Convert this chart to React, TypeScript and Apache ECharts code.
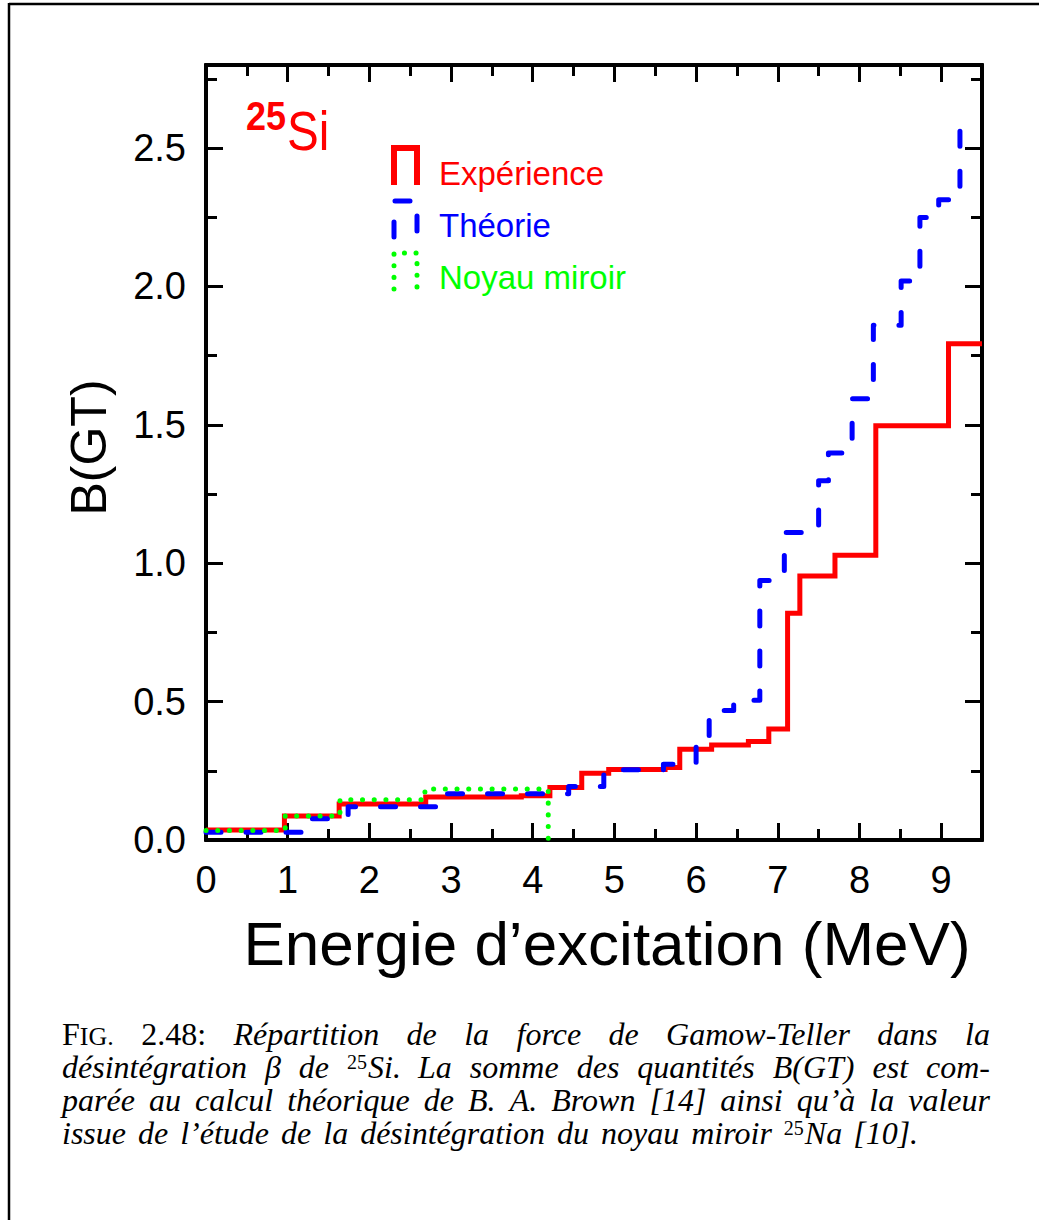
import React, { useEffect, useRef } from "react";
import * as echarts from "echarts";

// ---- axis ranges / ticks ----
const X_MAX = 9.5;
const X_MAJOR = 1;
const X_MINOR = 0.5;
const Y_MAX = 2.8;
const Y_MAJOR = 0.5;
const Y_MINOR = 0.25;

// ---- data (cumulative B(GT) step histograms) ----
// Expérience
const expEnergy = [0, 0.96, 1.63, 2.69, 3.86, 4.21, 4.6, 4.93, 5.62, 5.8, 6.19, 6.64, 6.89, 7.12, 7.27, 7.7, 8.2, 9.09, 9.5];
const expBGT = [0.036, 0.087, 0.13, 0.155, 0.16, 0.19, 0.241, 0.255, 0.262, 0.328, 0.343, 0.356, 0.401, 0.819, 0.954, 1.029, 1.497, 1.793, 1.793];
// Théorie
const thEnergy = [0, 1.17, 1.74, 2.88, 4.44, 4.87, 5.6, 6.0, 6.16, 6.46, 6.78, 7.08, 7.5, 7.62, 7.91, 8.17, 8.51, 8.74, 8.97, 9.23];
const thBGT = [0.028, 0.077, 0.12, 0.167, 0.193, 0.254, 0.274, 0.37, 0.468, 0.505, 0.938, 1.111, 1.298, 1.398, 1.594, 1.86, 2.02, 2.249, 2.313, 2.645];
// Noyau miroir
const mirEnergy = [0, 0.97, 1.64, 2.68, 4.19];
const mirBGT = [0.034, 0.087, 0.145, 0.184, 0];

const seriesNames = ["Expérience", "Théorie", "Noyau miroir"];
const seriesColors = ["#ff0000", "#0000ff", "#00ff00"];

const xTitle = "Energie d’excitation (MeV)";
const yTitle = "B(GT)";

type Seg = [string, string];
type Word = string | Seg[];
const captionLines: Word[][] = [
  [[["rm", "F"], ["sc", "IG."]], [["rm", "2.48:"]], "Répartition", "de", "la", "force", "de", "Gamow-Teller", "dans", "la"],
  ["désintégration", "β", "de", [["sup", "25"], ["it", "Si."]], "La", "somme", "des", "quantités", "B(GT)", "est", "com-"],
  ["parée", "au", "calcul", "théorique", "de", "B.", "A.", "Brown", "[14]", "ainsi", "qu’à", "la", "valeur"],
  ["issue", "de", "l’étude", "de", "la", "désintégration", "du", "noyau", "miroir", [["sup", "25"], ["it", "Na"]], "[10]."],
];

const toPoints = (xs: number[], ys: number[]) => xs.map((x, i) => [x, ys[i]]);

const SANS = "Liberation Sans";
const SERIF = "Liberation Serif";

export default function App() {
  const ref = useRef<HTMLDivElement>(null);

  useEffect(() => {
    if (!ref.current) return;
    const chart = echarts.init(ref.current, null, { renderer: "svg" });

    // ---------- caption layout (justified) ----------
    const canvas = document.createElement("canvas");
    const ctx = canvas.getContext("2d")!;
    const segStyle: Record<string, { size: number; style: string; rise: number }> = {
      it: { size: 32, style: "italic", rise: 0 },
      rm: { size: 32, style: "normal", rise: 0 },
      sc: { size: 26, style: "normal", rise: 0 },
      sup: { size: 20, style: "normal", rise: 9 },
    };
    const measure = (kind: string, t: string) => {
      const s = segStyle[kind];
      ctx.font = `${s.style} ${s.size}px "${SERIF}"`;
      return ctx.measureText(t).width;
    };
    const CAP_LEFT = 62;
    const CAP_RIGHT = 990;
    const CAP_BASE = [1045, 1078, 1111, 1144];
    const captionEls: any[] = [];
    captionLines.forEach((line, li) => {
      const words: Seg[][] = line.map((w) => (typeof w === "string" ? [["it", w] as Seg] : w));
      const widths = words.map((segs) => segs.reduce((a, [k, t]) => a + measure(k, t), 0));
      const total = widths.reduce((a, b) => a + b, 0);
      const justify = li < captionLines.length - 1;
      const gap = justify ? (CAP_RIGHT - CAP_LEFT - total) / (words.length - 1) : 12;
      let x = CAP_LEFT;
      words.forEach((segs, wi) => {
        let sx = x;
        segs.forEach(([k, t]) => {
          const s = segStyle[k];
          captionEls.push({
            type: "text",
            x: sx,
            y: CAP_BASE[li] - s.rise - 0.3375 * s.size,
            silent: true,
            style: {
              text: t,
              fontFamily: SERIF,
              fontSize: s.size,
              fontStyle: s.style,
              fill: "#000",
              align: "left",
              verticalAlign: "middle",
            },
          });
          sx += measure(k, t) + (k === "sup" ? 1 : 0);
        });
        x += widths[wi] + gap;
      });
    });

    // ---------- axes ----------
    const labelFmtY = (v: number) =>
      Math.abs(v / Y_MAJOR - Math.round(v / Y_MAJOR)) < 1e-6 ? v.toFixed(1) : "";
    const labelFmtX = (v: number) =>
      Math.abs(v / X_MAJOR - Math.round(v / X_MAJOR)) < 1e-6 ? String(Math.round(v)) : "";
    const axisLine = { show: true, onZero: false, lineStyle: { color: "#000", width: 4 } };
    const tick = (len: number) => ({ show: true, inside: true, length: len, lineStyle: { color: "#000", width: 3 } });
    const xAx = (pos: string, interval: number, len: number, withLabels: boolean) => ({
      type: "value",
      gridIndex: 0,
      position: pos,
      offset: 0,
      min: 0,
      max: X_MAX,
      interval,
      axisLine,
      axisTick: tick(len),
      splitLine: { show: false },
      axisLabel: withLabels
        ? { show: true, formatter: labelFmtX, margin: 21, fontSize: 38, fontFamily: SANS, color: "#000" }
        : { show: false },
      ...(withLabels
        ? {
            name: xTitle,
            nameLocation: "middle",
            nameGap: 72,
            nameTextStyle: { fontSize: 62, fontFamily: SANS, color: "#000", padding: [0, 0, 0, 26] },
          }
        : {}),
    });
    const yAx = (pos: string, interval: number, len: number, withLabels: boolean) => ({
      type: "value",
      gridIndex: 0,
      position: pos,
      offset: 0,
      min: 0,
      max: Y_MAX,
      interval,
      axisLine,
      axisTick: tick(len),
      splitLine: { show: false },
      axisLabel: withLabels
        ? { show: true, formatter: labelFmtY, margin: 20, fontSize: 38, fontFamily: SANS, color: "#000" }
        : { show: false },
      ...(withLabels
        ? {
            name: yTitle,
            nameLocation: "middle",
            nameGap: 92,
            nameTextStyle: { fontSize: 50, fontFamily: SANS, color: "#000", padding: [0, 0, 0, 10] },
          }
        : {}),
    });

    // ---------- legend glyphs ----------
    const glyph = (top: number, bottom: number, color: string, width: number, dash: any, cap: string) => ({
      type: "polyline",
      silent: true,
      shape: { points: [[394, bottom], [394, top], [417, top], [417, bottom]] },
      style: { stroke: color, lineWidth: width, fill: null, lineDash: dash, lineCap: cap, lineJoin: "miter" },
    });
    const legendText = (text: string, baseline: number, color: string) => ({
      type: "text",
      x: 439,
      y: baseline - 0.3465 * 33,
      silent: true,
      style: { text, fontFamily: SANS, fontSize: 33, fill: color, align: "left", verticalAlign: "middle" },
    });

    const option: any = {
      animation: false,
      backgroundColor: "#fff",
      grid: { left: 206, right: 57, top: 65, bottom: 380, containLabel: false },
      xAxis: [
        xAx("bottom", X_MAJOR, 17, true),
        xAx("bottom", X_MINOR, 11, false),
        xAx("top", X_MAJOR, 17, false),
        xAx("top", X_MINOR, 11, false),
      ],
      yAxis: [
        yAx("left", Y_MAJOR, 17, true),
        yAx("left", Y_MINOR, 11, false),
        yAx("right", Y_MAJOR, 17, false),
        yAx("right", Y_MINOR, 11, false),
      ],
      series: [
        {
          type: "line",
          name: seriesNames[0],
          xAxisIndex: 0,
          yAxisIndex: 0,
          data: toPoints(expEnergy, expBGT),
          step: "end",
          symbol: "none",
          showSymbol: false,
          silent: true,
          z: 3,
          lineStyle: { color: seriesColors[0], width: 5, join: "miter", cap: "butt" },
        },
        {
          type: "line",
          name: seriesNames[1],
          xAxisIndex: 0,
          yAxisIndex: 0,
          data: toPoints(thEnergy, thBGT),
          step: "end",
          symbol: "none",
          showSymbol: false,
          silent: true,
          z: 4,
          lineStyle: { color: seriesColors[1], width: 5, type: [15, 25], cap: "round", join: "round" },
        },
        {
          type: "line",
          name: seriesNames[2],
          xAxisIndex: 0,
          yAxisIndex: 0,
          data: toPoints(mirEnergy, mirBGT),
          step: "end",
          symbol: "none",
          showSymbol: false,
          silent: true,
          z: 5,
          lineStyle: { color: seriesColors[2], width: 5, type: [0.1, 11.6], cap: "round", join: "round" },
        },
      ],
      graphic: [
        // page frame (top & left rules)
        { type: "line", silent: true, shape: { x1: 9, y1: 4, x2: 1039, y2: 4 }, style: { stroke: "#000", lineWidth: 2.5 } },
        { type: "line", silent: true, shape: { x1: 9, y1: 3, x2: 9, y2: 1220 }, style: { stroke: "#000", lineWidth: 2.5 } },
        // nucleus label
        {
          type: "text",
          x: 246,
          y: 130 - 0.3465 * 40,
          scaleX: 0.9,
          silent: true,
          style: { text: "25", fontFamily: SANS, fontSize: 40, fontWeight: "bold", fill: "#ff0000", align: "left", verticalAlign: "middle" },
        },
        {
          type: "text",
          x: 287,
          y: 150 - 0.3465 * 56,
          scaleX: 0.85,
          silent: true,
          style: { text: "Si", fontFamily: SANS, fontSize: 56, fill: "#ff0000", align: "left", verticalAlign: "middle" },
        },
        // legend
        glyph(148, 185, seriesColors[0], 6, null, "butt"),
        glyph(201, 237, seriesColors[1], 5, [15, 22], "round"),
        glyph(253, 289, seriesColors[2], 5, [0.1, 11.5], "round"),
        legendText(seriesNames[0], 185, seriesColors[0]),
        legendText(seriesNames[1], 237, seriesColors[1]),
        legendText(seriesNames[2], 289, seriesColors[2]),
        ...captionEls,
      ],
    };

    chart.setOption(option);
    return () => chart.dispose();
  }, []);

  return (
    <div
      ref={ref}
      style={{ position: "absolute", left: 0, top: 0, width: 1039, height: 1220, background: "#fff" }}
    />
  );
}
